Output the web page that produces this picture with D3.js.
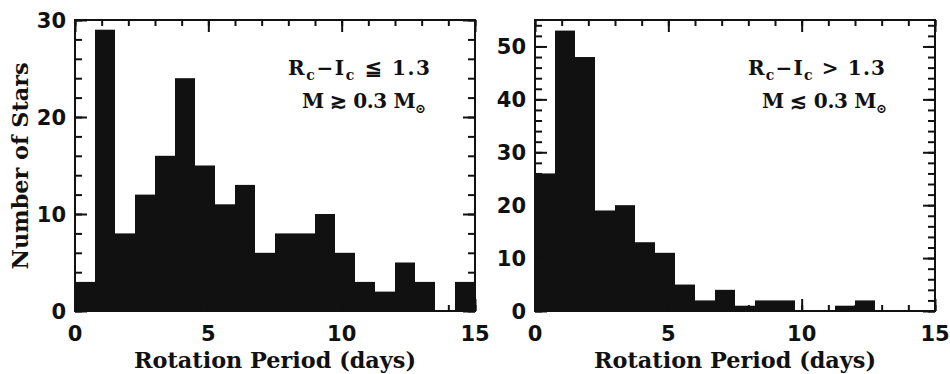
<!DOCTYPE html>
<html>
<head>
<meta charset="utf-8">
<script src="https://cdn.jsdelivr.net/npm/d3@7"></script>
<style>
  body { margin: 0; background: #fff; }
  svg { display: block; }
</style>
</head>
<body>
<div id="chart"></div>
<script>
// bin starts (days), bin width 0.75
const binStarts = [0, 0.75, 1.5, 2.25, 3, 3.75, 4.5, 5.25, 6, 6.75,
                   7.5, 8.25, 9, 9.75, 10.5, 11.25, 12, 12.75, 13.5, 14.25];
const binWidth = 0.75;
const leftCounts  = [3, 29, 8, 12, 16, 24, 15, 11, 13, 6, 8, 8, 10, 6, 3, 2, 5, 3, 0, 3];
const rightCounts = [26, 53, 48, 19, 20, 13, 11, 5, 2, 4, 1, 2, 2, 0, 0, 1, 2, 0, 0, 0];
const xTicks = [0, 5, 10, 15];
const leftYTicks = [0, 10, 20, 30];
const rightYTicks = [0, 10, 20, 30, 40, 50];

const width = 950, height = 374;
const ink = "#111";

const svg = d3.select("#chart").append("svg")
  .attr("width", width)
  .attr("height", height)
  .attr("viewBox", [0, 0, width, height]);

const panels = [
  {left: 75, right: 475, yMax: 30, yTicks: leftYTicks, counts: leftCounts,
   labelStart: [288, 302], labelLen: [142, 124], rel: "\u2266", rel2: "\u2273"},
  {left: 535, right: 935, yMax: 55, yTicks: rightYTicks, counts: rightCounts,
   labelStart: [748, 762], labelLen: [137, 125], rel: ">", rel2: "\u2272"}
];
const plotTop = 20, plotBottom = 311;

panels.forEach(p => {
  const x = d3.scaleLinear().domain([0, 15]).range([p.left, p.right]);
  const y = d3.scaleLinear().domain([0, p.yMax]).range([plotBottom, plotTop]);
  const g = svg.append("g");

  // bars
  g.append("g").selectAll("rect")
    .data(binStarts.map((s, i) => ({s, c: p.counts[i]})))
    .join("rect")
    .attr("x", d => x(d.s))
    .attr("width", d => x(d.s + binWidth) - x(d.s))
    .attr("y", d => y(d.c))
    .attr("height", d => y(0) - y(d.c))
    .attr("fill", ink);

  const minorX = d3.range(0, 16, 1);
  const minorY = d3.range(0, p.yMax + 0.1, 2);

  const tickStyle = sel => {
    sel.select(".domain").remove();
    sel.selectAll(".tick line").attr("stroke", ink).attr("stroke-width", 2);
    sel.selectAll(".tick text").remove();
  };

  // inward ticks on all four sides
  g.append("g").attr("transform", `translate(0,${plotBottom})`)
    .call(d3.axisBottom(x).tickValues(minorX).tickSize(-6)).call(tickStyle);
  g.append("g").attr("transform", `translate(0,${plotBottom})`)
    .call(d3.axisBottom(x).tickValues(xTicks).tickSize(-12)).call(tickStyle);
  g.append("g").attr("transform", `translate(0,${plotTop})`)
    .call(d3.axisTop(x).tickValues(minorX).tickSize(-6)).call(tickStyle);
  g.append("g").attr("transform", `translate(0,${plotTop})`)
    .call(d3.axisTop(x).tickValues(xTicks).tickSize(-12)).call(tickStyle);
  g.append("g").attr("transform", `translate(${p.left},0)`)
    .call(d3.axisLeft(y).tickValues(minorY).tickSize(-7)).call(tickStyle);
  g.append("g").attr("transform", `translate(${p.left},0)`)
    .call(d3.axisLeft(y).tickValues(p.yTicks).tickSize(-12)).call(tickStyle);
  g.append("g").attr("transform", `translate(${p.right},0)`)
    .call(d3.axisRight(y).tickValues(minorY).tickSize(-7)).call(tickStyle);
  g.append("g").attr("transform", `translate(${p.right},0)`)
    .call(d3.axisRight(y).tickValues(p.yTicks).tickSize(-12)).call(tickStyle);

  // frame
  g.append("rect")
    .attr("x", p.left).attr("y", plotTop)
    .attr("width", p.right - p.left).attr("height", plotBottom - plotTop)
    .attr("fill", "none").attr("stroke", ink).attr("stroke-width", 2);

  // tick labels
  g.append("g").selectAll("text")
    .data(xTicks).join("text")
    .attr("x", d => x(d)).attr("y", 341)
    .attr("text-anchor", "middle")
    .attr("font-family", "DejaVu Sans").attr("font-weight", "bold")
    .attr("font-size", 21).attr("fill", ink)
    .text(d => d);
  g.append("g").selectAll("text")
    .data(p.yTicks).join("text")
    .attr("x", p.left - 9).attr("y", d => y(d)).attr("dy", "0.36em")
    .attr("text-anchor", "end")
    .attr("font-family", "DejaVu Sans").attr("font-weight", "bold")
    .attr("font-size", 21).attr("fill", ink)
    .text(d => d);

  // x axis title
  g.append("text")
    .attr("x", (p.left + p.right) / 2).attr("y", 368)
    .attr("text-anchor", "middle")
    .attr("font-family", "DejaVu Serif").attr("font-weight", "bold")
    .attr("font-size", 22).attr("fill", ink)
    .attr("textLength", 282).attr("lengthAdjust", "spacingAndGlyphs")
    .text("Rotation Period (days)");

  // annotation
  const ann = g.append("g")
    .attr("font-family", "DejaVu Serif").attr("font-weight", "bold")
    .attr("font-size", 20).attr("fill", ink);
  const l1 = ann.append("text").attr("x", p.labelStart[0]).attr("y", 75)
    .attr("textLength", p.labelLen[0]).attr("lengthAdjust", "spacing");
  l1.append("tspan").text("R");
  l1.append("tspan").attr("font-size", 14).attr("dy", 5).text("c");
  l1.append("tspan").attr("dy", -5).text("\u2212I");
  l1.append("tspan").attr("font-size", 14).attr("dy", 5).text("c");
  l1.append("tspan").attr("dy", -5).text(" " + p.rel + "  1.3");
  const l2 = ann.append("text").attr("x", p.labelStart[1]).attr("y", 108)
    .attr("textLength", p.labelLen[1]).attr("lengthAdjust", "spacing");
  l2.append("tspan").text("M " + p.rel2 + " 0.3 M");
  l2.append("tspan").attr("font-size", 13).attr("dy", 5).text("\u2299");
});

// y axis title
svg.append("text")
  .attr("transform", "translate(28,166) rotate(-90)")
  .attr("text-anchor", "middle")
  .attr("font-family", "DejaVu Serif").attr("font-weight", "bold")
  .attr("font-size", 23).attr("fill", ink)
  .attr("textLength", 207).attr("lengthAdjust", "spacingAndGlyphs")
  .text("Number of Stars");
</script>
</body>
</html>
